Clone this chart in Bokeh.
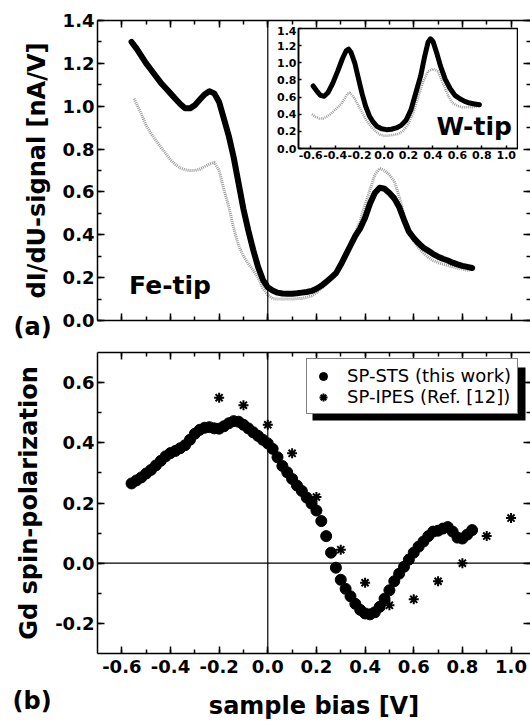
from bokeh.plotting import figure
from bokeh.models import (Range1d, SingleIntervalTicker, LinearAxis, Span, Label, Legend,
                          LegendItem, BoxAnnotation, PrintfTickFormatter, CustomJSTickFormatter)
from bokeh.layouts import column
from bokeh.embed import file_html
from bokeh.resources import INLINE

FONT = "DejaVu Sans"

# ---------------- data: panel (a), Fe-tip ----------------
fe_black_bias = [-0.56, -0.54, -0.52, -0.50, -0.48, -0.46, -0.44, -0.42, -0.40, -0.38,
                 -0.36, -0.34, -0.32, -0.30, -0.28, -0.26, -0.24, -0.22, -0.20, -0.18,
                 -0.16, -0.14, -0.12, -0.10, -0.08, -0.06, -0.04, -0.02, 0.00, 0.02,
                 0.04, 0.06, 0.08, 0.10, 0.12, 0.14, 0.16, 0.18, 0.20, 0.22,
                 0.24, 0.26, 0.28, 0.30, 0.32, 0.34, 0.36, 0.38, 0.40, 0.42,
                 0.44, 0.46, 0.48, 0.50, 0.52, 0.54, 0.56, 0.58, 0.60, 0.62,
                 0.64, 0.66, 0.68, 0.70, 0.72, 0.74, 0.76, 0.78, 0.80, 0.82, 0.84]
fe_black = [1.30, 1.27, 1.235, 1.20, 1.17, 1.14, 1.11, 1.085, 1.06, 1.035,
            1.01, 0.99, 0.99, 1.005, 1.03, 1.055, 1.07, 1.06, 1.02, 0.94,
            0.86, 0.76, 0.64, 0.52, 0.42, 0.33, 0.25, 0.19, 0.155, 0.14,
            0.13, 0.126, 0.125, 0.125, 0.127, 0.13, 0.133, 0.138, 0.148, 0.162,
            0.18, 0.20, 0.22, 0.26, 0.305, 0.35, 0.395, 0.43, 0.48, 0.545,
            0.595, 0.62, 0.615, 0.595, 0.57, 0.53, 0.47, 0.415, 0.385, 0.36,
            0.34, 0.325, 0.31, 0.298, 0.288, 0.28, 0.27, 0.262, 0.255, 0.25, 0.245]

fe_gray_bias = [-0.55, -0.52, -0.50, -0.48, -0.46, -0.44, -0.42, -0.40, -0.38, -0.36,
                -0.34, -0.32, -0.30, -0.28, -0.26, -0.24, -0.22, -0.20, -0.18, -0.16,
                -0.14, -0.12, -0.10, -0.08, -0.06, -0.04, -0.02, 0.00, 0.02, 0.04,
                0.06, 0.08, 0.10, 0.12, 0.14, 0.16, 0.18, 0.20, 0.22, 0.24,
                0.26, 0.28, 0.30, 0.32, 0.34, 0.36, 0.38, 0.40, 0.42, 0.44,
                0.46, 0.48, 0.50, 0.52, 0.54, 0.56, 0.58, 0.60, 0.62, 0.64,
                0.66, 0.68, 0.70, 0.72, 0.74, 0.76, 0.78, 0.80, 0.83]
fe_gray = [1.035, 0.965, 0.91, 0.873, 0.84, 0.81, 0.78, 0.75, 0.728, 0.712,
           0.703, 0.70, 0.70, 0.706, 0.718, 0.73, 0.738, 0.70, 0.61, 0.53,
           0.43, 0.35, 0.30, 0.265, 0.235, 0.20, 0.15, 0.12, 0.102, 0.10,
           0.10, 0.10, 0.10, 0.102, 0.103, 0.108, 0.115, 0.13, 0.15, 0.17,
           0.195, 0.23, 0.27, 0.315, 0.36, 0.41, 0.465, 0.54, 0.61, 0.68,
           0.71, 0.70, 0.68, 0.65, 0.58, 0.49, 0.42, 0.37, 0.34, 0.315,
           0.295, 0.28, 0.27, 0.263, 0.257, 0.25, 0.245, 0.24, 0.233]

# ---------------- data: inset, W-tip ----------------
w_black_bias = [-0.58, -0.55, -0.52, -0.49, -0.46, -0.42, -0.38, -0.34, -0.31, -0.29,
                -0.27, -0.24, -0.21, -0.18, -0.15, -0.12, -0.09, -0.06, -0.02, 0.02,
                0.06, 0.10, 0.14, 0.18, 0.22, 0.26, 0.30, 0.33, 0.36, 0.38,
                0.40, 0.43, 0.46, 0.50, 0.54, 0.58, 0.62, 0.66, 0.70, 0.74, 0.78]
w_black = [0.73, 0.67, 0.62, 0.61, 0.65, 0.76, 0.90, 1.05, 1.14, 1.16,
           1.12, 1.00, 0.82, 0.64, 0.49, 0.38, 0.31, 0.26, 0.23, 0.22,
           0.225, 0.24, 0.27, 0.33, 0.45, 0.65, 0.85, 1.06, 1.24, 1.28,
           1.25, 1.12, 0.97, 0.81, 0.70, 0.62, 0.58, 0.55, 0.53, 0.52, 0.51]

w_gray_bias = [-0.59, -0.56, -0.53, -0.50, -0.47, -0.44, -0.41, -0.38, -0.35, -0.32,
               -0.30, -0.28, -0.26, -0.24, -0.21, -0.18, -0.15, -0.12, -0.09, -0.06,
               -0.03, 0.00, 0.04, 0.08, 0.12, 0.16, 0.20, 0.24, 0.28, 0.32,
               0.36, 0.40, 0.44, 0.47, 0.50, 0.53, 0.56, 0.60, 0.64, 0.68,
               0.72, 0.76, 0.79]
w_gray = [0.40, 0.37, 0.35, 0.35, 0.37, 0.40, 0.44, 0.48, 0.52, 0.59,
          0.64, 0.65, 0.62, 0.58, 0.50, 0.42, 0.34, 0.28, 0.23, 0.19,
          0.16, 0.15, 0.15, 0.16, 0.17, 0.21, 0.29, 0.42, 0.60, 0.78,
          0.90, 0.93, 0.90, 0.80, 0.70, 0.60, 0.53, 0.50, 0.48, 0.48,
          0.48, 0.49, 0.50]

# ---------------- data: panel (b) ----------------
sts_bias = [-0.56, -0.54, -0.52, -0.50, -0.48, -0.46, -0.44, -0.42, -0.40, -0.38,
            -0.36, -0.34, -0.32, -0.30, -0.28, -0.26, -0.24, -0.22, -0.20, -0.18,
            -0.16, -0.14, -0.12, -0.10, -0.08, -0.06, -0.04, -0.02, 0.00, 0.02,
            0.04, 0.06, 0.08, 0.10, 0.12, 0.14, 0.16, 0.18, 0.20, 0.22,
            0.24, 0.26, 0.28, 0.30, 0.32, 0.34, 0.36, 0.38, 0.40, 0.42,
            0.44, 0.46, 0.48, 0.50, 0.52, 0.54, 0.56, 0.58, 0.60, 0.62,
            0.64, 0.66, 0.68, 0.70, 0.72, 0.74, 0.76, 0.78, 0.80, 0.82, 0.84]
sts_pol = [0.265, 0.275, 0.285, 0.298, 0.31, 0.325, 0.34, 0.355, 0.366, 0.373,
           0.382, 0.392, 0.41, 0.43, 0.443, 0.45, 0.452, 0.448, 0.447, 0.455,
           0.465, 0.472, 0.47, 0.46, 0.448, 0.435, 0.423, 0.41, 0.398, 0.38,
           0.352, 0.323, 0.302, 0.28, 0.258, 0.24, 0.218, 0.198, 0.175, 0.14,
           0.09, 0.035, -0.015, -0.055, -0.085, -0.11, -0.135, -0.155, -0.167, -0.17,
           -0.163, -0.145, -0.118, -0.09, -0.06, -0.035, -0.012, 0.012, 0.035, 0.055,
           0.072, 0.09, 0.105, 0.108, 0.115, 0.12, 0.105, 0.085, 0.082, 0.095, 0.11]

ipes_bias = [-0.2, -0.1, 0.0, 0.1, 0.2, 0.3, 0.4, 0.5, 0.6, 0.7, 0.8, 0.9, 1.0]
ipes_pol = [0.55, 0.525, 0.46, 0.365, 0.22, 0.045, -0.065, -0.14, -0.12, -0.06, 0.0, 0.09, 0.15]

labels_text = {
    "ylab_a": "dI/dU-signal [nA/V]",
    "ylab_b": "Gd spin-polarization",
    "xlab": "sample bias [V]",
    "sts": "SP-STS (this work)",
    "ipes": "SP-IPES (Ref. [12])",
}


def make_axis(show_labels=True, fs="18px", tin=7, min_in=4, line=True,
              standoff=4, title=None, title_standoff=10, minor=2):
    ax = LinearAxis(ticker=SingleIntervalTicker(interval=0.2, num_minor_ticks=minor))
    if show_labels:
        ax.formatter = PrintfTickFormatter(format="%.1f")
        ax.major_label_text_font = FONT
        ax.major_label_text_font_style = "bold"
        ax.major_label_text_font_size = fs
        ax.major_label_text_color = "black"
        ax.major_label_standoff = standoff
    else:
        ax.formatter = CustomJSTickFormatter(code="return ''")
        ax.major_label_text_font_size = "1px"
        ax.major_label_standoff = 0
    ax.major_tick_in = tin
    ax.major_tick_out = 0
    ax.minor_tick_in = min_in
    ax.minor_tick_out = 0
    ax.major_tick_line_width = 1.5
    ax.minor_tick_line_width = 1.5
    ax.major_tick_line_color = "black"
    ax.minor_tick_line_color = "black"
    ax.axis_line_width = 1.5
    ax.axis_line_color = "black" if line else None
    if title:
        ax.axis_label = title
        ax.axis_label_text_font = FONT
        ax.axis_label_text_font_style = "bold"
        ax.axis_label_text_font_size = "24px"
        ax.axis_label_text_color = "black"
        ax.axis_label_standoff = title_standoff
    return ax


def base_fig(w, h, xr, yr, ml, mr, mt, mb):
    p = figure(width=w, height=h, x_range=Range1d(*xr), y_range=Range1d(*yr),
               output_backend="svg", toolbar_location=None,
               x_axis_location=None, y_axis_location=None)
    p.min_border_left = ml
    p.min_border_right = mr
    p.min_border_top = mt
    p.min_border_bottom = mb
    p.xgrid.grid_line_color = None
    p.ygrid.grid_line_color = None
    p.outline_line_color = None
    p.background_fill_color = "white"
    p.border_fill_color = "white"
    return p


# ---------------- panel (a) ----------------
p_top = base_fig(530, 350, (-0.7, 1.08), (0, 1.4001), 97, 0, 20, 30)
p_top.add_layout(make_axis(title=labels_text["ylab_a"], title_standoff=9, standoff=3), "left")
p_top.add_layout(make_axis(show_labels=False), "below")
p_top.add_layout(make_axis(show_labels=False), "above")
p_top.add_layout(make_axis(show_labels=False, line=False), "right")
p_top.add_layout(Span(location=0, dimension="height", line_color="black", line_width=1.2))

p_top.line(fe_gray_bias, fe_gray, line_color="#999999", line_width=3, line_dash="1 1")
p_top.line(fe_black_bias, fe_black, line_color="black", line_width=6,
           line_join="round", line_cap="round")
p_top.add_layout(Label(x=-0.57, y=0.095, text="Fe-tip", text_font=FONT,
                       text_font_style="bold", text_font_size="25px", text_color="black"))

# ---------------- inset (W-tip) ----------------
p_in = base_fig(317, 138, (-0.7, 1.1), (0, 1.4001), 97, 0, 2, 16)
p_in.border_fill_alpha = 0
p_in.outline_line_color = "black"
p_in.outline_line_width = 1.5
p_in.add_layout(make_axis(fs="11px", tin=3, min_in=0, standoff=2, minor=0), "left")
p_in.add_layout(make_axis(fs="11px", tin=3, min_in=0, standoff=2, minor=0), "below")
p_in.line(w_gray_bias, w_gray, line_color="#999999", line_width=2.5, line_dash="1 1")
p_in.line(w_black_bias, w_black, line_color="black", line_width=5,
          line_join="round", line_cap="round")
p_in.add_layout(Label(x=0.43, y=0.09, text="W-tip", text_font=FONT,
                      text_font_style="bold", text_font_size="25px", text_color="black"))
p_in.margin = (-324, 0, 180, 201)

# ---------------- panel (b) ----------------
p_bot = base_fig(530, 381, (-0.7, 1.08), (-0.3, 0.7), 97, 0, 8, 72)
p_bot.add_layout(make_axis(title=labels_text["ylab_b"], title_standoff=9, standoff=3), "left")
p_bot.add_layout(make_axis(title=labels_text["xlab"], title_standoff=16, standoff=6), "below")
p_bot.add_layout(make_axis(show_labels=False), "above")
p_bot.add_layout(make_axis(show_labels=False, line=False), "right")
p_bot.add_layout(Span(location=0, dimension="height", line_color="black", line_width=1.2))
p_bot.add_layout(Span(location=0, dimension="width", line_color="black", line_width=1.2))

r_sts = p_bot.scatter(sts_bias, sts_pol, marker="circle", size=11,
                      fill_color="black", line_color="black")
r_ipes = p_bot.scatter(ipes_bias, ipes_pol, marker="asterisk", size=10,
                       line_color="black", line_width=2)

shadow = BoxAnnotation(left=215, right=428, bottom=233, top=286,
                       left_units="screen", right_units="screen",
                       bottom_units="screen", top_units="screen",
                       fill_color="black", fill_alpha=1.0, line_color=None)
p_bot.add_layout(shadow)

legend = Legend(items=[LegendItem(label=labels_text["sts"], renderers=[r_sts]),
                       LegendItem(label=labels_text["ipes"], renderers=[r_ipes])],
                location=(209, 239))
legend.label_text_font = FONT
legend.label_text_font_size = "18px"
legend.label_text_color = "black"
legend.border_line_color = "black"
legend.border_line_width = 1.5
legend.background_fill_color = "white"
legend.background_fill_alpha = 1.0
legend.padding = 6
legend.spacing = 0
legend.label_standoff = 14
legend.glyph_width = 20
legend.glyph_height = 20
legend.margin = 0
p_bot.add_layout(legend)

# ---------------- overlay carrying the panel letters ----------------
p_lab = base_fig(147, 420, (0, 1), (0, 1), 97, 0, 0, 0)
p_lab.background_fill_alpha = 0
p_lab.border_fill_alpha = 0
p_lab.add_layout(Label(x=5, y=394, x_units="screen", y_units="screen", text="(a)",
                       text_baseline="alphabetic", text_font=FONT, text_font_style="bold",
                       text_font_size="24px", text_color="black"))
p_lab.add_layout(Label(x=4, y=20, x_units="screen", y_units="screen", text="(b)",
                       text_baseline="alphabetic", text_font=FONT, text_font_style="bold",
                       text_font_size="24px", text_color="black"))
p_lab.margin = (-425, 0, 5, -89)

layout = column(p_top, p_in, p_bot, p_lab)
open("out.html", "w").write(file_html(layout, INLINE))
